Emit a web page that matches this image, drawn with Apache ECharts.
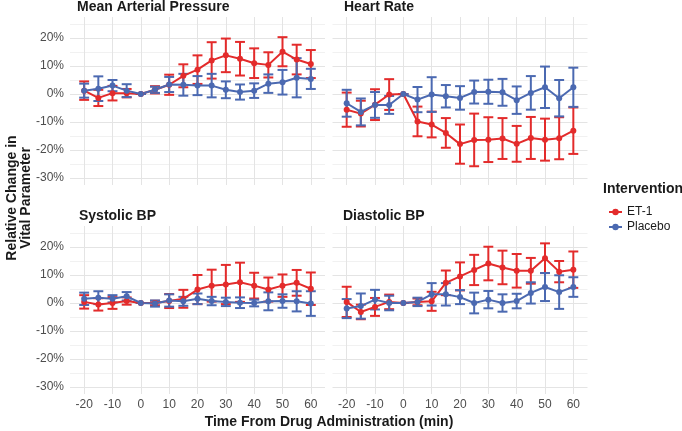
<!DOCTYPE html>
<html>
<head>
<meta charset="utf-8">
<script src="https://cdn.jsdelivr.net/npm/echarts@6/dist/echarts.min.js"></script>
<style>
html,body{margin:0;padding:0;background:#fff;}
#chart{width:682px;height:431px;}
</style>
</head>
<body>
<div id="chart"></div>
<script>
// ---------- DATA ----------
const timepoints = [-20,-15,-10,-5,0,5,10,15,20,25,30,35,40,45,50,55,60];
const groups = ['ET-1', 'Placebo'];
const panelTitles = ['Mean Arterial Pressure', 'Heart Rate', 'Systolic BP', 'Diastolic BP'];
const xTickLabels = [-20,-10,0,10,20,30,40,50,60];
const yTickLabels = [-30,-20,-10,0,10,20];

const mapEt1Mean = [1.2,-1.4,0.3,0.3,0,1.5,3.3,6.5,8.7,12.0,13.8,12.6,11.0,10.4,15.1,12.3,10.7];
const mapEt1Err  = [3.3,2.9,2.6,1.5,0,1.3,3.6,4.1,5.1,6.5,6.0,6.0,5.3,4.5,5.2,5.3,5.0];
const mapPlcMean = [1.2,1.9,3.0,1.2,0,1.5,3.4,3.3,3.0,3.0,1.5,0.7,1.2,3.7,4.2,5.8,5.4];
const mapPlcErr  = [2.5,4.4,2.0,2.3,0,1.1,2.7,3.9,3.4,4.2,3.0,2.7,2.6,3.3,4.4,7.0,3.6];

const hrEt1Mean = [-5.6,-7.0,-3.8,-0.2,0,-9.8,-10.9,-13.9,-17.9,-16.4,-16.3,-15.9,-17.8,-15.7,-16.3,-15.8,-13.1];
const hrEt1Err  = [6.1,4.6,5.5,5.5,0,5.3,4.6,5.3,7.0,9.4,8.0,7.3,6.4,7.5,7.5,7.5,8.3];
const hrPlcMean = [-3.3,-6.4,-3.9,-3.9,0,-2.0,-0.2,-0.8,-1.4,0.7,0.8,0.6,-2.2,0.4,2.4,-1.5,2.4];
const hrPlcErr  = [4.8,4.8,4.6,3.2,0,4.5,6.2,4.0,4.2,4.1,4.3,4.8,4.9,6.0,7.4,6.5,7.0];

const sbpEt1Mean = [0.4,-0.5,0,0.7,0,0,0.7,1.5,4.8,6.2,6.6,7.4,6.2,4.8,6.2,7.2,5.1];
const sbpEt1Err  = [2.4,2.2,2.1,1.3,0,0.8,2.5,3.2,5.2,5.7,7.0,7.0,4.6,4.3,4.0,4.6,5.8];
const sbpPlcMean = [1.5,1.9,1.5,2.4,0,-0.2,0.9,0.6,1.5,0.7,0.4,0.1,0,0.6,0.7,0.6,-0.2];
const sbpPlcErr  = [2.2,2.3,1.3,1.5,0,1.1,2.2,1.6,1.9,1.5,1.5,1.9,1.2,3.2,2.4,3.6,4.4];

const dbpEt1Mean = [0.4,-3.2,-1.4,0.4,0,0.4,0.6,7.2,9.5,11.8,14.1,12.7,11.5,11.5,16.0,11.2,11.9];
const dbpEt1Err  = [5.4,2.6,3.2,2.6,0,1.2,3.4,4.4,5.0,5.4,6.0,6.0,6.0,4.6,5.3,3.8,6.5];
const dbpPlcMean = [-2.0,-1.1,1.2,0,0,0.4,3.1,3.1,2.1,0,1.2,0,0.7,3.6,5.7,3.9,5.7];
const dbpPlcErr  = [3.4,4.5,3.5,2.6,0,1.5,4.0,4.0,2.5,3.7,3.1,3.1,2.6,3.8,5.0,6.0,3.5];

const panels = [
  [[mapEt1Mean, mapEt1Err], [mapPlcMean, mapPlcErr]],
  [[hrEt1Mean, hrEt1Err], [hrPlcMean, hrPlcErr]],
  [[sbpEt1Mean, sbpEt1Err], [sbpPlcMean, sbpPlcErr]],
  [[dbpEt1Mean, dbpEt1Err], [dbpPlcMean, dbpPlcErr]]
];

// ---------- STYLE ----------
const colors = ['#E32B2B', '#4B69B1'];
const FONT = '"Liberation Sans", Arial, Helvetica, sans-serif';
const CAP = 1.75; // half width of error-bar cap in x units
const gridPos = [
  {left: 70, top: 17, width: 255, height: 168},
  {left: 332.5, top: 17, width: 255, height: 168},
  {left: 70, top: 226, width: 255, height: 168},
  {left: 332.5, top: 226, width: 255, height: 168}
];
const MAJ = '#e4e4e4', MIN = '#f1f1f1', NONE = 'rgba(0,0,0,0)';

const chart = echarts.init(document.getElementById('chart'), null, {renderer: 'canvas'});

const xAxes = [], yAxes = [], series = [];
gridPos.forEach((g, i) => {
  const bottomRow = i >= 2, leftCol = i % 2 === 0;
  xAxes.push({
    type: 'value', gridIndex: i, min: -25, max: 65, interval: 5,
    axisLine: {show: false}, axisTick: {show: false},
    axisLabel: {
      show: bottomRow, margin: 5, color: '#4d4d4d', fontSize: 12, fontFamily: FONT,
      formatter: v => xTickLabels.some(t => Math.abs(t - v) < 1e-6) ? String(Math.round(v)) : ''
    },
    splitLine: {show: true, lineStyle: {color: [NONE, MAJ], width: 1}}
  });
  yAxes.push({
    type: 'value', gridIndex: i, min: -32.5, max: 27.5, interval: 2.5,
    axisLine: {show: false}, axisTick: {show: false},
    axisLabel: {
      show: leftCol, margin: 6, color: '#4d4d4d', fontSize: 12, fontFamily: FONT,
      formatter: v => yTickLabels.some(t => Math.abs(t - v) < 1e-6) ? Math.round(v) + '%' : ''
    },
    splitLine: {show: true, lineStyle: {color: [NONE, MAJ, NONE, MIN], width: 1}}
  });
});

function errRender(color) {
  return function (params, api) {
    const x = api.value(0), lo = api.value(1), hi = api.value(2);
    const pLo = api.coord([x, lo]);
    const pHi = api.coord([x, hi]);
    const half = api.coord([x + CAP, lo])[0] - pLo[0];
    const st = {stroke: color, lineWidth: 2};
    return {
      type: 'group',
      children: [
        {type: 'line', shape: {x1: pLo[0], y1: pLo[1], x2: pHi[0], y2: pHi[1]}, style: st},
        {type: 'line', shape: {x1: pLo[0] - half, y1: pLo[1], x2: pLo[0] + half, y2: pLo[1]}, style: st},
        {type: 'line', shape: {x1: pHi[0] - half, y1: pHi[1], x2: pHi[0] + half, y2: pHi[1]}, style: st}
      ]
    };
  };
}

panels.forEach((p, i) => {
  p.forEach((gd, gi) => {
    const [mean, err] = gd;
    series.push({
      type: 'custom', name: groups[gi] + ' SE ' + i, xAxisIndex: i, yAxisIndex: i,
      renderItem: errRender(colors[gi]), silent: true,
      encode: {x: 0, y: [1, 2]},
      data: timepoints.map((t, k) => [t, mean[k] - err[k], mean[k] + err[k]]),
      z: 2
    });
  });
  p.forEach((gd, gi) => {
    const [mean] = gd;
    series.push({
      type: 'line', name: groups[gi], xAxisIndex: i, yAxisIndex: i,
      data: timepoints.map((t, k) => [t, mean[k]]),
      symbol: 'circle', symbolSize: 6, showSymbol: true,
      lineStyle: {color: colors[gi], width: 2},
      itemStyle: {color: colors[gi]},
      z: 3
    });
  });
});

const titleText = (text, x, y) => ({
  type: 'text', left: x, top: y,
  style: {text: text, fill: '#1a1a1a', font: 'bold 14px ' + FONT, textVerticalAlign: 'top'}
});

chart.setOption({
  animation: false,
  backgroundColor: '#ffffff',
  grid: gridPos.map(g => Object.assign({containLabel: false}, g)),
  xAxis: xAxes,
  yAxis: yAxes,
  series: series,
  legend: {
    data: groups, orient: 'vertical', left: 603, top: 201,
    itemWidth: 13, itemHeight: 8, itemGap: 3,
    textStyle: {fontSize: 12, color: '#1a1a1a', fontFamily: FONT},
    selectedMode: false
  },
  graphic: [
    titleText(panelTitles[0], 77, 0),
    titleText(panelTitles[1], 344, 0),
    titleText(panelTitles[2], 79, 209),
    titleText(panelTitles[3], 343, 209),
    {
      type: 'text', x: 603, y: 189,
      style: {text: 'Intervention', fill: '#1a1a1a', font: 'bold 14px ' + FONT, textVerticalAlign: 'middle'}
    },
    {
      type: 'text', x: 329, y: 422,
      style: {text: 'Time From Drug Administration (min)', fill: '#1a1a1a', font: 'bold 14px ' + FONT,
        textAlign: 'center', textVerticalAlign: 'middle'}
    },
    {
      type: 'text', x: 19, y: 198, rotation: Math.PI / 2,
      style: {text: 'Relative Change in\nVital Parameter', fill: '#1a1a1a', font: 'bold 14px ' + FONT,
        textAlign: 'center', textVerticalAlign: 'middle', lineHeight: 14}
    }
  ]
});
</script>
</body>
</html>
